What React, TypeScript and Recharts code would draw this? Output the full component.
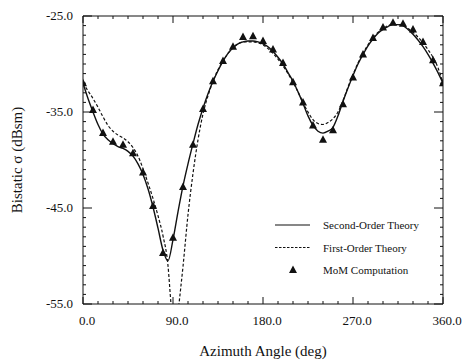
import { ComposedChart, Line, Scatter, XAxis, YAxis, Legend } from "recharts";

// second-order theory (solid)
const secondOrderDeg = [
  0, 5, 10, 15, 20, 25, 30, 35, 40, 45, 50, 55, 60, 65, 70, 75, 80, 85, 90, 95, 100, 105, 110, 115, 120,
  125, 130, 135, 140, 145, 150, 155, 160, 165, 170, 175, 180, 185, 190, 195, 200, 205, 210, 215, 220, 225,
  230, 235, 240, 245, 250, 255, 260, 265, 270, 275, 280, 285, 290, 295, 300, 305, 310, 315, 320, 325, 330,
  335, 340, 345, 350, 355, 360
];
const secondOrderDb = [
  -32.0, -33.6, -35.0, -36.3, -37.3, -37.9, -38.3, -38.6, -38.8, -39.1, -39.6, -40.4, -41.5, -43.0, -44.9,
  -47.1, -49.4, -50.5, -48.3, -45.4, -42.7, -40.4, -38.3, -36.3, -34.6, -33.1, -31.8, -30.7, -29.7, -28.9,
  -28.3, -27.9, -27.7, -27.6, -27.6, -27.7, -27.9, -28.2, -28.7, -29.3, -30.0, -30.9, -31.8, -32.9, -34.1,
  -35.4, -36.4, -37.0, -37.2, -37.0, -36.6, -35.4, -33.9, -32.5, -31.2, -30.0, -29.0, -28.1, -27.4, -26.8,
  -26.4, -26.1, -25.9, -25.9, -26.0, -26.4, -26.9, -27.5, -28.2, -29.0, -29.9, -30.9, -32.0
];

// first-order theory (dashed), dips below the frame near 90 deg
const firstOrderDeg = [
  0, 5, 10, 15, 20, 25, 30, 35, 40, 45, 50, 55, 60, 65, 70, 75, 80, 85, 88, 92, 96, 100, 105, 110, 115, 120,
  125, 130, 135, 140, 145, 150, 155, 160, 165, 170, 175, 180, 185, 190, 195, 200, 205, 210, 215, 220, 225,
  230, 235, 240, 245, 250, 255, 260, 265, 270, 275, 280, 285, 290, 295, 300, 305, 310, 315, 320, 325, 330,
  335, 340, 345, 350, 355, 360
];
const firstOrderDb = [
  -32.0, -32.8, -33.6, -34.5, -35.5, -36.4, -37.0, -37.4, -37.7, -38.1, -38.7, -39.6, -40.9, -42.4, -44.0,
  -45.8, -47.9, -51.0, -55.0, -59.0, -55.0, -51.1, -45.7, -41.4, -37.9, -35.2, -33.3, -31.8, -30.6, -29.7,
  -28.9, -28.3, -27.9, -27.7, -27.7, -27.7, -27.8, -28.0, -28.4, -28.9, -29.5, -30.2, -31.0, -31.9, -32.9,
  -34.0, -35.0, -35.8, -36.2, -36.3, -36.1, -35.7, -35.0, -33.8, -32.4, -31.1, -29.9, -28.9, -28.0, -27.3,
  -26.7, -26.3, -26.0, -25.9, -25.9, -26.0, -26.3, -26.7, -27.2, -27.8, -28.5, -29.3, -30.4, -32.0
];

// MoM computation (triangles)
const momDeg = [
  0, 10, 20, 30, 40, 50, 60, 70, 80, 90, 100, 110, 120, 130, 140, 150, 160, 170, 180, 190, 200, 210, 220,
  230, 240, 250, 260, 270, 280, 290, 300, 310, 320, 330, 340, 350, 360
];
const momDb = [
  -32.0, -34.8, -37.2, -38.1, -38.4, -39.3, -41.3, -44.8, -49.7, -48.1, -42.8, -38.4, -34.7, -31.8, -29.7,
  -28.2, -27.2, -27.1, -27.6, -28.5, -29.9, -31.9, -34.0, -36.4, -37.9, -36.9, -34.2, -31.4, -29.0, -27.3,
  -26.2, -25.7, -25.8, -26.4, -27.7, -29.6, -32.0
];

const xTicks = [0, 15, 30, 45, 60, 75, 90, 105, 120, 135, 150, 165, 180, 195, 210, 225, 240, 255, 270, 285, 300, 315, 330, 345, 360];
const xMajor = [0, 90, 180, 270, 360];
const yMajor = [-55, -45, -35, -25];
const yTicks = Array.from({ length: 31 }, (_, i) => -55 + i);

const secondOrder = secondOrderDeg.map((deg, i) => ({ deg, v: secondOrderDb[i] }));
const firstOrder = firstOrderDeg.map((deg, i) => ({ deg, v: firstOrderDb[i] }));
const mom = momDeg.map((deg, i) => ({ deg, v: momDb[i] }));

const FONT = '"Liberation Serif", "Times New Roman", serif';
const INK = "#111";

function XTick({ x, y, payload, top }: any) {
  const major = xMajor.includes(payload.value);
  const len = major ? 7 : 3;
  return (
    <g>
      <line x1={x} y1={y} x2={x} y2={top ? y + len : y - len} stroke={INK} strokeWidth={1} />
      {!top && major ? (
        <text x={x + 4} y={y + 21} textAnchor="middle" fontSize={13} fontFamily={FONT} fill={INK}>
          {payload.value.toFixed(1)}
        </text>
      ) : null}
    </g>
  );
}

function YTick({ x, y, payload, right }: any) {
  const major = yMajor.includes(payload.value);
  const len = major ? 9 : 3;
  return (
    <g>
      <line x1={x} y1={y} x2={right ? x - len : x + len} y2={y} stroke={INK} strokeWidth={1} />
      {!right && major ? (
        <text x={x - 10} y={y + 4} textAnchor="end" fontSize={13} fontFamily={FONT} fill={INK}>
          {payload.value.toFixed(1)}
        </text>
      ) : null}
    </g>
  );
}

function Triangle({ cx, cy }: any) {
  if (cx == null || cy == null) return null;
  return <polygon points={`${cx},${cy - 4.5} ${cx - 4},${cy + 3} ${cx + 4},${cy + 3}`} fill={INK} />;
}

function LegendBox() {
  const rows = [
    { label: "Second-Order Theory", kind: "solid" },
    { label: "First-Order Theory", kind: "dashed" },
    { label: "MoM Computation", kind: "mom" }
  ];
  return (
    <svg width={160} height={62}>
      {rows.map((r, i) => {
        const y = 6 + i * 22.5;
        return (
          <g key={r.label}>
            {r.kind === "mom" ? (
              <Triangle cx={20} cy={y} />
            ) : (
              <line
                x1={2}
                x2={37}
                y1={y}
                y2={y}
                stroke={INK}
                strokeWidth={1.2}
                strokeDasharray={r.kind === "dashed" ? "2.5 1.5" : undefined}
              />
            )}
            <text x={50} y={y + 4} fontSize={11} fontFamily={FONT} fill={INK}>
              {r.label}
            </text>
          </g>
        );
      })}
    </svg>
  );
}

function XTitle({ viewBox }: any) {
  return (
    <text
      x={viewBox.x + viewBox.width / 2}
      y={viewBox.y + 52}
      textAnchor="middle"
      fontSize={15}
      fontFamily={FONT}
      fill={INK}
    >
      Azimuth Angle (deg)
    </text>
  );
}

function YTitle({ viewBox }: any) {
  const cx = viewBox.x + viewBox.width - 61;
  const cy = viewBox.y + viewBox.height / 2;
  return (
    <text
      x={cx}
      y={cy}
      transform={`rotate(-90 ${cx} ${cy})`}
      textAnchor="middle"
      fontSize={15}
      fontFamily={FONT}
      fill={INK}
    >
      Bistatic σ (dBsm)
    </text>
  );
}

export default function App() {
  return (
    <div style={{ position: "absolute", left: 0, top: 0, background: "#fff" }}>
      <ComposedChart width={463} height={364} margin={{ top: 15, right: 19, bottom: 30, left: 23 }}>
        <XAxis
          dataKey="deg"
          type="number"
          domain={[0, 360]}
          allowDataOverflow
          ticks={xTicks}
          interval={0}
          height={30}
          tickSize={0}
          tickMargin={0}
          stroke={INK}
          tick={<XTick />}
          label={<XTitle />}
        />
        <XAxis
          xAxisId="top"
          orientation="top"
          dataKey="deg"
          type="number"
          domain={[0, 360]}
          allowDataOverflow
          ticks={xTicks}
          interval={0}
          height={1}
          tickSize={0}
          tickMargin={0}
          stroke={INK}
          tick={<XTick top />}
        />
        <YAxis
          type="number"
          domain={[-55, -25]}
          allowDataOverflow
          ticks={yTicks}
          interval={0}
          width={60}
          tickSize={0}
          tickMargin={0}
          stroke={INK}
          tick={<YTick />}
          label={<YTitle />}
        />
        <YAxis
          yAxisId="right"
          orientation="right"
          type="number"
          domain={[-55, -25]}
          allowDataOverflow
          ticks={yTicks}
          interval={0}
          width={1}
          tickSize={0}
          tickMargin={0}
          stroke={INK}
          tick={<YTick right />}
        />
        <Line
          data={firstOrder}
          dataKey="v"
          type="monotone"
          stroke={INK}
          strokeWidth={1.2}
          strokeDasharray="3 2"
          dot={false}
          isAnimationActive={false}
        />
        <Line
          data={secondOrder}
          dataKey="v"
          type="monotone"
          stroke={INK}
          strokeWidth={1.4}
          dot={false}
          isAnimationActive={false}
        />
        <Scatter data={mom} dataKey="v" fill={INK} shape={<Triangle />} isAnimationActive={false} />
        <Legend
          layout="vertical"
          align="center"
          verticalAlign="middle"
          content={() => <LegendBox />}
          wrapperStyle={{ position: "absolute", left: 273, top: 219, width: 160 }}
        />
      </ComposedChart>
    </div>
  );
}
